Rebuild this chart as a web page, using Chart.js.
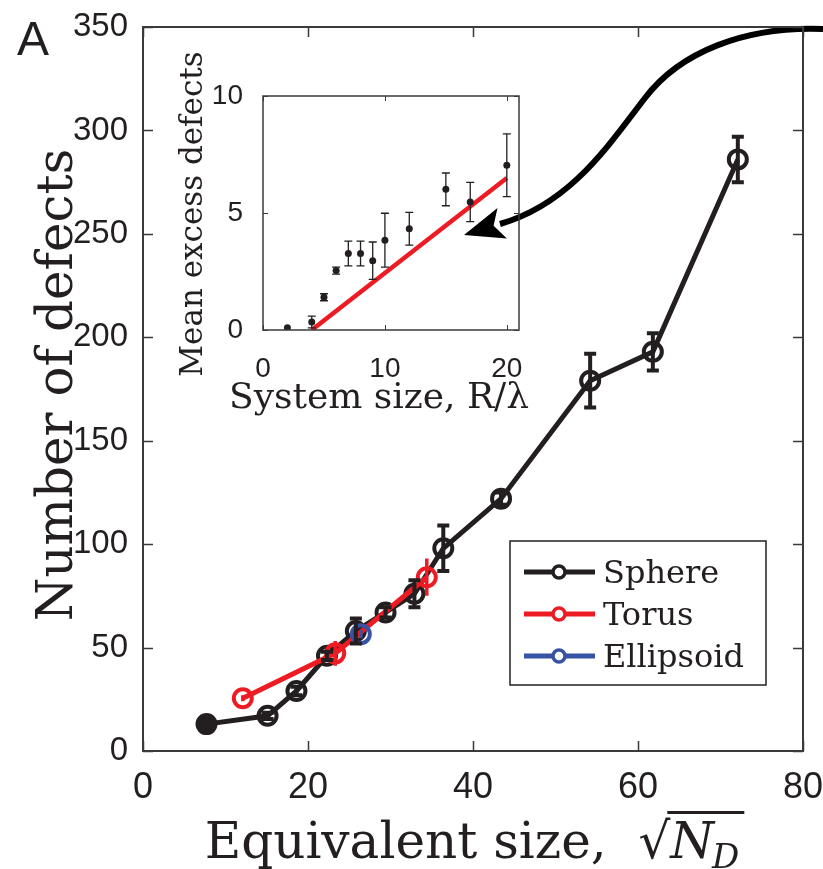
<!DOCTYPE html>
<html>
<head>
<meta charset="utf-8">
<script src="https://cdn.jsdelivr.net/npm/chart.js@4.4.0/dist/chart.umd.min.js"></script>
<style>
html, body { margin: 0; padding: 0; background: #fff; }
#wrap { position: relative; width: 823px; height: 869px; }
#main { position: absolute; left: 0; top: 0; }
#inset { position: absolute; left: 160px; top: 30px; }
</style>
</head>
<body>
<div id="wrap">
<canvas id="main" width="823" height="869"></canvas>
<canvas id="inset" width="380" height="400"></canvas>
</div>
<script>
// sqrt(N_D) vs number of defects, per surface
var sphereX = [7.7, 15.1, 18.6, 22.3, 25.8, 29.4, 32.9, 36.4, 43.4, 54.2, 61.8, 72.1];
var sphereY = [13, 17, 29, 46, 58, 67, 76, 98, 122, 179, 193, 286];
var sphereErr = [1, 1.5, 2, 2, 6, 2.5, 6.5, 11, 3, 13, 9, 11];

var torusX = [12.1, 23.3, 34.4];
var torusY = [25.5, 47.2, 84];
var torusErr = [1.5, 6, 9];

var ellipsoidX = [26.4];
var ellipsoidY = [56.5];
var ellipsoidErr = [2];

var mainXTicks = [0, 20, 40, 60, 80];
var mainYTicks = [0, 50, 100, 150, 200, 250, 300, 350];

// inset: mean excess defects vs R/lambda
var insetX = [2, 4, 5, 6, 7, 8, 9, 10, 12, 15, 17, 20];
var insetY = [0.1, 0.34, 1.4, 2.54, 3.27, 3.27, 2.96, 3.84, 4.33, 6.01, 5.47, 7.04];
var insetErr = [0, 0.25, 0.15, 0.15, 0.53, 0.53, 0.8, 1.15, 0.7, 0.7, 0.84, 1.34];
var fitX = [4, 20];
var fitY = [0, 6.5];
var insetXTicks = [0, 10, 20];
var insetYTicks = [0, 5, 10];

var ink = '#231f20';
var red = '#ed1c24';
var blue = '#3953a4';

function points(xs, ys){
	var out = [];
	for (var i=0;i<xs.length;i++){ out.push({x: xs[i], y: ys[i]}); }
	return out;
}

function fixTicks(list){
	return function(scale){ scale.ticks = list.map(function(v){ return {value: v}; }); };
}

// fixed axis box size, and no extra room for labels overhanging the ends
function sizeXAxis(h){
	return function(s){ s.height = h; s.paddingLeft = 0; s.paddingRight = 0; };
}
function sizeYAxis(w){
	return function(s){ s.width = w; s.paddingTop = 0; s.paddingBottom = 0; };
}

// frame + inward tick marks on all four sides
var boxTicks = {
	id: 'boxTicks',
	afterDraw: function(chart, args, opts){
		var ctx = chart.ctx, a = chart.chartArea;
		var xs = chart.scales.x, ys = chart.scales.y;
		ctx.save();
		ctx.strokeStyle = opts.color;
		ctx.lineWidth = opts.width;
		ctx.strokeRect(a.left, a.top, a.right - a.left, a.bottom - a.top);
		ctx.beginPath();
		xs.ticks.forEach(function(t){
			var px = Math.round(xs.getPixelForValue(t.value)) + 0.5;
			ctx.moveTo(px, a.bottom); ctx.lineTo(px, a.bottom - opts.len);
			ctx.moveTo(px, a.top); ctx.lineTo(px, a.top + opts.len);
		});
		ys.ticks.forEach(function(t){
			var py = Math.round(ys.getPixelForValue(t.value)) + 0.5;
			ctx.moveTo(a.left, py); ctx.lineTo(a.left + opts.len, py);
			ctx.moveTo(a.right, py); ctx.lineTo(a.right - opts.len, py);
		});
		ctx.lineWidth = opts.tickWidth;
		ctx.stroke();
		ctx.restore();
	}
};

var errorBars = {
	id: 'errorBars',
	afterDatasetsDraw: function(chart){
		var ctx = chart.ctx;
		chart.data.datasets.forEach(function(ds, i){
			if (!ds.errors) return;
			var meta = chart.getDatasetMeta(i);
			var xs = chart.scales[meta.xAxisID], ys = chart.scales[meta.yAxisID];
			var cap = ds.errorCap || 0;
			ctx.save();
			ctx.strokeStyle = ds.errorColor || ds.borderColor;
			ctx.lineWidth = ds.errorWidth || 2;
			ctx.beginPath();
			ds.data.forEach(function(p, j){
				var e = ds.errors[j];
				if (!e) return;
				var px = xs.getPixelForValue(p.x);
				var top = ys.getPixelForValue(p.y + e), bot = ys.getPixelForValue(p.y - e);
				ctx.moveTo(px, top); ctx.lineTo(px, bot);
				if (cap){
					ctx.moveTo(px - cap, top); ctx.lineTo(px + cap, top);
					ctx.moveTo(px - cap, bot); ctx.lineTo(px + cap, bot);
				}
			});
			ctx.stroke();
			ctx.restore();
		});
	}
};

// legend box: line + open circle + label
var lineLegend = {
	id: 'lineLegend',
	afterDraw: function(chart, args, opts){
		var ctx = chart.ctx, a = chart.chartArea;
		var left = a.right - opts.right - opts.w, top = a.bottom - opts.bottom - opts.h;
		ctx.save();
		ctx.fillStyle = '#fff';
		ctx.fillRect(left, top, opts.w, opts.h);
		ctx.strokeStyle = ink;
		ctx.lineWidth = 1.5;
		ctx.strokeRect(left, top, opts.w, opts.h);
		ctx.font = opts.font;
		ctx.textBaseline = 'alphabetic';
		chart.data.datasets.forEach(function(ds, i){
			var y = top + opts.first + i * opts.step;
			ctx.strokeStyle = ds.borderColor;
			ctx.lineWidth = 5;
			ctx.beginPath();
			ctx.moveTo(left + 14, y); ctx.lineTo(left + 85, y);
			ctx.stroke();
			ctx.fillStyle = '#fff';
			ctx.lineWidth = 3.5;
			ctx.beginPath();
			ctx.arc(left + 49, y, 6, 0, Math.PI * 2);
			ctx.fill(); ctx.stroke();
			ctx.fillStyle = ink;
			ctx.fillText(ds.label, left + 93, y + 11);
		});
		ctx.restore();
	}
};

var mainDecor = {
	id: 'mainDecor',
	beforeDatasetsDraw: function(chart){
		// curved pointer into the inset
		var ctx = chart.ctx;
		ctx.save();
		ctx.strokeStyle = '#000';
		ctx.fillStyle = '#000';
		ctx.lineWidth = 6;
		ctx.beginPath();
		ctx.moveTo(823, 29);
		ctx.bezierCurveTo(745, 26, 680, 52, 645, 98);
		ctx.bezierCurveTo(608, 146, 570, 204, 500, 224);
		ctx.stroke();
		var dx = -0.955, dy = 0.295, nx = -dy, ny = dx;
		var tipX = 464, tipY = 235;
		var bx = tipX - dx * 40, by = tipY - dy * 40;
		ctx.beginPath();
		ctx.moveTo(tipX, tipY);
		ctx.lineTo(bx + nx * 16, by + ny * 16);
		ctx.lineTo(tipX - dx * 31, tipY - dy * 31);
		ctx.lineTo(bx - nx * 16, by - ny * 16);
		ctx.closePath();
		ctx.fill();
		ctx.restore();
	},
	afterDraw: function(chart){
		var ctx = chart.ctx, a = chart.chartArea;
		ctx.save();
		ctx.fillStyle = ink;
		ctx.font = '48px "Liberation Sans", Arial, sans-serif';
		ctx.textAlign = 'left';
		ctx.textBaseline = 'alphabetic';
		ctx.fillText('A', 17, 55);

		// y title
		ctx.font = '50px "DejaVu Serif", serif';
		ctx.save();
		ctx.translate(72, (a.top + a.bottom) / 2 - 4);
		ctx.rotate(-Math.PI / 2);
		ctx.textAlign = 'center';
		ctx.fillText('Number of defects', 0, 0);
		ctx.restore();

		// x title with sqrt(N_D)
		var base = 858;
		var f1 = '50px "DejaVu Serif", serif';
		var fi = 'italic 50px "DejaVu Serif", serif';
		var fs = 'italic 34px "DejaVu Serif", serif';
		var t1 = 'Equivalent size,  ';
		ctx.font = f1; var w1 = ctx.measureText(t1).width; var wr = ctx.measureText('\u221A').width;
		ctx.font = fi; var wn = ctx.measureText('N').width;
		ctx.font = fs; var wd = ctx.measureText('D').width;
		var x0 = (a.left + a.right) / 2 - (w1 + wr + wn + wd) / 2;
		ctx.textAlign = 'left';
		ctx.font = f1;
		ctx.fillText(t1, x0, base);
		ctx.fillText('\u221A', x0 + w1, base);
		ctx.font = fi;
		ctx.fillText('N', x0 + w1 + wr, base);
		ctx.font = fs;
		ctx.fillText('D', x0 + w1 + wr + wn - 2, base + 10);
		ctx.fillRect(x0 + w1 + wr - 3, base - 47, wn + wd + 6, 3);
		ctx.restore();
	}
};

var insetDecor = {
	id: 'insetDecor',
	afterDraw: function(chart){
		var ctx = chart.ctx, a = chart.chartArea;
		ctx.save();
		ctx.fillStyle = ink;
		ctx.textBaseline = 'alphabetic';
		ctx.font = '31px "DejaVu Serif", serif';
		ctx.save();
		ctx.translate(42, (a.top + a.bottom) / 2 + 1);
		ctx.rotate(-Math.PI / 2);
		ctx.textAlign = 'center';
		ctx.fillText('Mean excess defects', 0, 0);
		ctx.restore();
		ctx.font = '36px "DejaVu Serif", serif';
		ctx.textAlign = 'center';
		ctx.fillText('System size, R/\u03BB', (a.left + a.right) / 2 - 12, a.bottom + 78);
		ctx.restore();
	}
};

var mainChart = new Chart(document.getElementById('main'), {
	type: 'line',
	data: {
		datasets: [
			{
				label: 'Sphere',
				order: 3,
				data: points(sphereX, sphereY),
				errors: sphereErr,
				errorCap: 6,
				errorWidth: 4,
				borderColor: ink,
				borderWidth: 5,
				pointRadius: 9,
				pointBorderWidth: 4,
				pointBorderColor: ink,
				pointBackgroundColor: sphereX.map(function(v, i){ return i == 0 ? ink : 'rgba(0,0,0,0)'; }),
				tension: 0
			},
			{
				label: 'Torus',
				order: 2,
				data: points(torusX, torusY),
				errors: torusErr,
				errorWidth: 3.5,
				borderColor: red,
				borderWidth: 5,
				pointRadius: 9,
				pointBorderWidth: 4,
				pointBorderColor: red,
				pointBackgroundColor: 'rgba(0,0,0,0)',
				tension: 0
			},
			{
				label: 'Ellipsoid',
				order: 1,
				data: points(ellipsoidX, ellipsoidY),
				errors: ellipsoidErr,
				errorWidth: 3.5,
				borderColor: blue,
				borderWidth: 5,
				pointRadius: 9,
				pointBorderWidth: 4,
				pointBorderColor: blue,
				pointBackgroundColor: 'rgba(0,0,0,0)',
				tension: 0
			}
		]
	},
	options: {
		responsive: false,
		animation: false,
		layout: { padding: { left: 0, right: 20, top: 27, bottom: 0 } },
		scales: {
			x: {
				type: 'linear', min: 0, max: 80,
				afterBuildTicks: fixTicks(mainXTicks),
				afterFit: sizeXAxis(118),
				grid: { display: false }, border: { display: false },
				ticks: { color: ink, padding: 7, maxRotation: 0,
					font: { family: '"Liberation Sans Narrow", "Liberation Sans", sans-serif', size: 36 } }
			},
			y: {
				type: 'linear', min: 0, max: 350,
				afterBuildTicks: fixTicks(mainYTicks),
				afterFit: sizeYAxis(143),
				grid: { display: false }, border: { display: false },
				ticks: { color: ink, padding: 7,
					font: { family: '"Liberation Sans", sans-serif', size: 33 } }
			}
		},
		plugins: {
			legend: { display: false },
			tooltip: { enabled: false },
			boxTicks: { color: '#3a3a3a', width: 2, tickWidth: 1.5, len: 10 },
			lineLegend: { right: 37, bottom: 66, w: 256, h: 144, first: 31, step: 42,
				font: '32px "DejaVu Serif", serif' }
		}
	},
	plugins: [mainDecor, errorBars, boxTicks, lineLegend]
});

var insetChart = new Chart(document.getElementById('inset'), {
	type: 'line',
	data: {
		datasets: [
			{
				label: 'data',
				data: points(insetX, insetY),
				errors: insetErr,
				errorCap: 4,
				errorWidth: 1.3,
				showLine: false,
				borderColor: ink,
				pointRadius: 3.5,
				pointBorderWidth: 0,
				pointBackgroundColor: ink
			},
			{
				label: 'fit',
				data: points(fitX, fitY),
				borderColor: red,
				borderWidth: 4.5,
				pointRadius: 0
			}
		]
	},
	options: {
		responsive: false,
		animation: false,
		layout: { padding: { left: 0, right: 21, top: 66, bottom: 0 } },
		scales: {
			x: {
				type: 'linear', min: 0, max: 21,
				afterBuildTicks: fixTicks(insetXTicks),
				afterFit: sizeXAxis(100),
				grid: { display: false }, border: { display: false },
				ticks: { color: ink, padding: 14, maxRotation: 0,
					font: { family: '"Liberation Sans", sans-serif', size: 28 } }
			},
			y: {
				type: 'linear', min: 0, max: 10,
				afterBuildTicks: fixTicks(insetYTicks),
				afterFit: sizeYAxis(103),
				grid: { display: false }, border: { display: false },
				ticks: { color: ink, padding: 12,
					font: { family: '"Liberation Sans", sans-serif', size: 28 } }
			}
		},
		plugins: {
			legend: { display: false },
			tooltip: { enabled: false },
			boxTicks: { color: '#3a3a3a', width: 1.5, tickWidth: 1, len: 5 }
		}
	},
	plugins: [errorBars, boxTicks, insetDecor]
});
</script>
</body>
</html>
